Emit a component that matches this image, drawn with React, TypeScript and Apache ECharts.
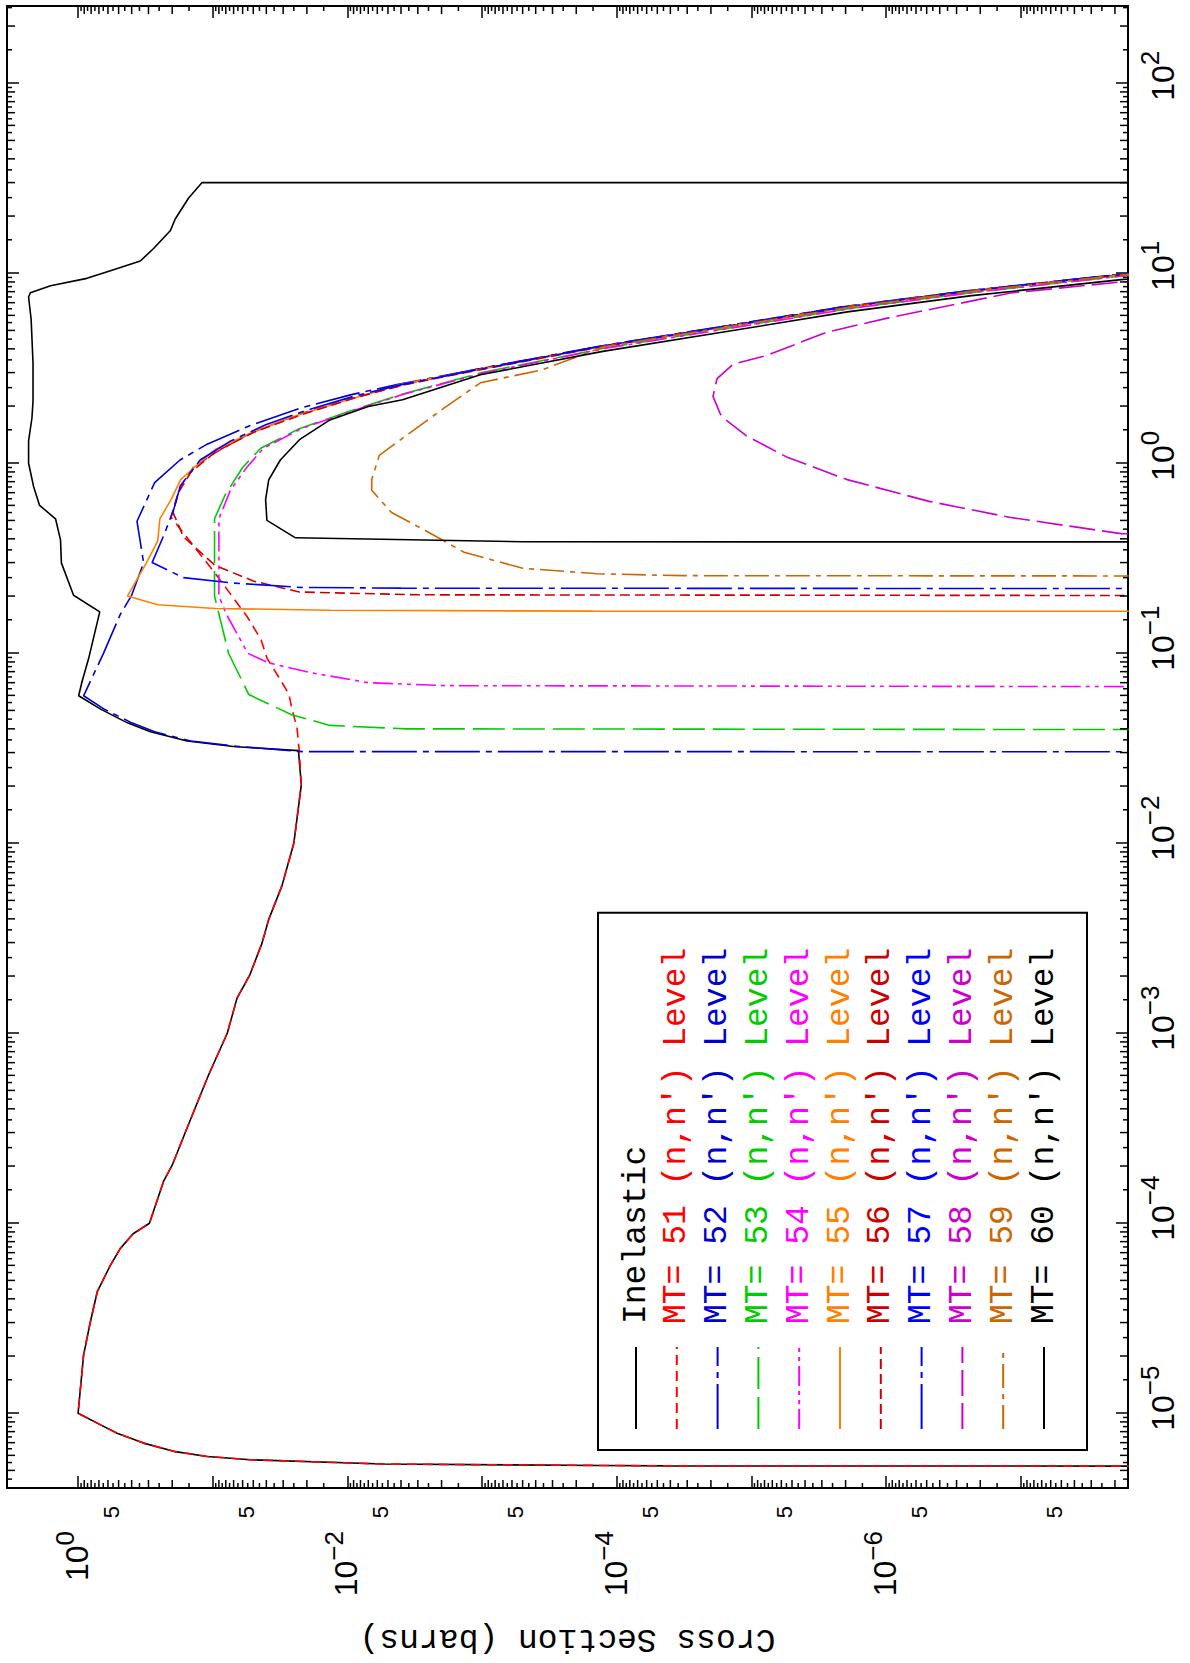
import React, { useEffect, useRef } from "react";
import * as echarts from "echarts";

// ---------- axis ranges ----------
const ENERGY_MIN = 4.04e-6;
const ENERGY_MAX = 255;
const XS_MIN = 1.6e-8;
const XS_MAX = 3.37;

// ---------- legend / styling tables ----------
const LEGEND_NAMES = [
  "Inelastic",
  "MT= 51 (n,n') Level",
  "MT= 52 (n,n') Level",
  "MT= 53 (n,n') Level",
  "MT= 54 (n,n') Level",
  "MT= 55 (n,n') Level",
  "MT= 56 (n,n') Level",
  "MT= 57 (n,n') Level",
  "MT= 58 (n,n') Level",
  "MT= 59 (n,n') Level",
  "MT= 60 (n,n') Level",
];
const LINE_COLORS = [
  "#000000", "#ff0000", "#0000d0", "#00cc00", "#ff00ff", "#ff8000",
  "#cc0000", "#0000ff", "#cc00cc", "#cc6600", "#000000",
];
const LINE_DASHES: any[] = [
  "solid", [10, 6], [45, 6, 6, 6], [32, 8], [20, 5, 4, 5, 4, 5], "solid",
  [10, 5], [45, 6, 6, 6], [26, 7], [24, 6, 5, 6], "solid",
];

// ---------- data: [energy (MeV), cross section (barns)] ----------
const SHARED_LOW = [
  [5.26e-6, 1e-10], [5.28e-6, 3.9e-5], [5.31e-6, 1.3e-4], [5.4e-6, 5.4e-3],
  [5.69e-6, 0.0526], [5.92e-6, 0.11], [6.3e-6, 0.195], [6.96e-6, 0.326],
  [7.85e-6, 0.513], [8.68e-6, 0.68], [1.0e-5, 1.0], [1.35e-5, 0.96],
  [2.02e-5, 0.91], [3.03e-5, 0.81], [4.36e-5, 0.72], [6.0e-5, 0.576],
  [7.37e-5, 0.485], [8.8e-5, 0.39], [1.0e-4, 0.295], [1.66e-4, 0.232],
  [2.02e-4, 0.2], [3.0e-4, 0.16], [5.97e-4, 0.108], [1.0e-3, 0.078],
  [1.53e-3, 0.066], [2.03e-3, 0.053], [2.99e-3, 0.043], [3.95e-3, 0.0385],
  [5.98e-3, 0.0306], [1.0e-2, 0.025], [1.34e-2, 0.0237], [2.03e-2, 0.022],
];

const INELASTIC_HIGH = [
  [3.07e-2, 0.0231], [3.23e-2, 0.0703], [3.45e-2, 0.155], [3.86e-2, 0.29],
  [4.3e-2, 0.43], [5.08e-2, 0.68], [5.97e-2, 0.99], [7.1e-2, 0.934],
  [9.4e-2, 0.834], [0.165, 0.69], [0.2018, 1.08], [0.299, 1.33],
  [0.395, 1.35], [0.51, 1.47], [0.6, 1.93], [0.755, 2.14], [1.0, 2.33],
  [1.31, 2.33], [1.73, 2.2], [2.12, 2.16], [3.37, 2.16], [5.7, 2.23],
  [7.5, 2.33], [7.9, 2.26], [8.6, 1.6], [9.4, 0.86], [10.3, 0.575],
  [11.6, 0.345], [13.5, 0.275], [16.8, 0.206], [19.3, 0.19], [24.9, 0.151],
  [30.0, 0.12], [30.0, 1e-10],
];

const MT51_HIGH = [
  [3.06e-2, 0.0228], [4.07e-2, 0.0237], [5.08e-2, 0.0258], [6.1e-2, 0.0272],
  [7.5e-2, 0.0324], [9.4e-2, 0.0395], [0.118, 0.0438], [0.156, 0.0556],
  [0.192, 0.069], [0.266, 0.097], [0.394, 0.15], [0.52, 0.204], [0.62, 0.19],
  [0.755, 0.174], [0.953, 0.139], [1.15, 0.093], [1.44, 0.0526],
  [1.82, 0.0224], [2.19, 0.0095], [2.57, 0.004], [3.15, 1.03e-3],
  [4.15, 1.27e-4], [5.25, 1.6e-5], [6.7, 2.0e-6], [8.1, 2.4e-7],
  [9.85, 1.8e-8], [10.4, 7e-9],
];

const MT52 = [
  [0.0303, 1e-10], [0.03035, 0.0215], [0.0323, 0.064], [0.0345, 0.145],
  [0.0386, 0.27], [0.043, 0.4], [0.0508, 0.64], [0.0597, 0.91],
  [0.0993, 0.65], [0.16, 0.486], [0.2018, 0.4], [0.299, 0.326],
  [0.495, 0.365], [0.79, 0.27], [1.04, 0.175], [1.26, 0.11], [1.58, 0.0526],
  [1.95, 0.0224], [2.29, 0.0095], [2.6, 0.0042], [3.12, 1.1e-3],
  [4.13, 1.35e-4], [5.23, 1.7e-5], [6.65, 2.1e-6], [8.05, 2.6e-7],
  [9.85, 1.9e-8], [10.4, 7e-9],
];

const MT53 = [
  [0.0395, 1e-10], [0.04, 0.0036], [0.0417, 0.0135], [0.0475, 0.026],
  [0.0606, 0.054], [0.1, 0.0763], [0.2, 0.097], [0.51, 0.097], [0.68, 0.081],
  [0.95, 0.06], [1.2, 0.044], [1.52, 0.0228], [1.87, 0.0098], [2.3, 0.004],
  [3.0, 1.0e-3], [4.05, 1.2e-4], [5.15, 1.45e-5], [6.55, 1.8e-6],
  [7.95, 2.2e-7], [9.7, 1.7e-8], [10.3, 6e-9],
];

const MT54 = [
  [0.0664, 1e-10], [0.0675, 0.0019], [0.07, 0.007], [0.079, 0.0188],
  [0.089, 0.0385], [0.1, 0.055], [0.16, 0.079], [0.2, 0.09], [0.51, 0.09],
  [0.72, 0.074], [0.95, 0.056], [1.2, 0.042], [1.52, 0.022], [1.87, 0.0095],
  [2.3, 0.0039], [3.0, 9.5e-4], [4.05, 1.15e-4], [5.15, 1.4e-5],
  [6.55, 1.75e-6], [7.95, 2.15e-7], [9.7, 1.7e-8], [10.3, 6e-9],
];

const MT55 = [
  [0.166, 1e-10], [0.1665, 1.5e-4], [0.1685, 0.0135], [0.172, 0.096],
  [0.18, 0.256], [0.2, 0.43], [0.3, 0.31], [0.39, 0.256], [0.51, 0.247],
  [0.643, 0.204], [0.82, 0.173], [0.93, 0.142], [1.18, 0.096], [1.46, 0.05],
  [1.75, 0.026], [2.16, 0.0098], [2.6, 0.004], [3.13, 1.0e-3],
  [4.13, 1.25e-4], [5.22, 1.57e-5], [6.65, 1.95e-6], [8.05, 2.4e-7],
  [9.8, 1.8e-8], [10.4, 7e-9],
];

const MT56 = [
  [0.2005, 1e-10], [0.203, 0.003], [0.21, 0.0228], [0.24, 0.05],
  [0.29, 0.096], [0.41, 0.165], [0.55, 0.197], [0.7, 0.18], [0.9, 0.145],
  [1.15, 0.095], [1.45, 0.05], [1.8, 0.022], [2.2, 0.009], [2.6, 0.0037],
  [3.12, 1.0e-3], [4.12, 1.25e-4], [5.22, 1.55e-5], [6.64, 1.9e-6],
  [8.05, 2.35e-7], [9.8, 1.75e-8], [10.4, 7e-9],
];

const MT57 = [
  [0.2185, 1e-10], [0.22, 0.004], [0.222, 0.0224], [0.234, 0.07],
  [0.25, 0.165], [0.3, 0.282], [0.42, 0.23], [0.57, 0.195], [0.76, 0.174],
  [1.04, 0.124], [1.3, 0.075], [1.6, 0.04], [1.9, 0.02], [2.25, 0.009],
  [2.6, 0.0039], [3.12, 1.05e-3], [4.13, 1.3e-4], [5.23, 1.62e-5],
  [6.65, 2.0e-6], [8.05, 2.5e-7], [9.85, 1.85e-8], [10.4, 7e-9],
];

const MT58 = [
  [0.41, 1e-10], [0.426, 1.8e-8], [0.465, 4.2e-8], [0.518, 1.19e-7],
  [0.63, 4.8e-7], [0.82, 1.95e-6], [1.08, 5.5e-6], [1.4, 1.1e-5],
  [1.66, 1.5e-5], [1.81, 1.7e-5], [2.25, 1.93e-5], [2.79, 1.8e-5],
  [3.33, 1.36e-5], [3.68, 7.8e-6], [4.9, 2.75e-6], [5.82, 9.6e-7],
  [7.87, 1.19e-7], [9.0, 1.8e-8], [9.6, 3e-9],
];

const MT59 = [
  [0.2545, 1e-10], [0.256, 3.2e-5], [0.262, 1.4e-4], [0.28, 5e-4],
  [0.34, 1.36e-3], [0.44, 2.6e-3], [0.55, 4.7e-3], [0.72, 6.6e-3],
  [0.82, 6.6e-3], [1.1, 5.8e-3], [1.41, 3.6e-3], [1.96, 1.9e-3],
  [2.65, 1.03e-3], [3.1, 3.6e-4], [4.1, 1.25e-4], [5.2, 1.55e-5],
  [6.62, 1.9e-6], [8.03, 2.35e-7], [9.8, 1.75e-8], [10.4, 7e-9],
];

const MT60 = [
  [0.385, 1e-10], [0.386, 5e-4], [0.405, 0.0243], [0.5, 0.0396],
  [0.643, 0.0405], [0.818, 0.0384], [1.04, 0.0315], [1.33, 0.0227],
  [1.69, 0.0135], [1.99, 0.007], [2.16, 0.0039], [2.92, 1.03e-3],
  [3.88, 1.27e-4], [4.92, 1.57e-5], [6.26, 1.94e-6], [7.6, 2.4e-7],
  [9.25, 1.8e-8], [9.8, 7e-9],
];

const INELASTIC = [...SHARED_LOW, ...INELASTIC_HIGH];
const MT51 = [...SHARED_LOW, ...MT51_HIGH];
const SERIES_DATA = [INELASTIC, MT51, MT52, MT53, MT54, MT55, MT56, MT57, MT58, MT59, MT60];

// ---------- tick furniture ----------
const MINOR_STEPS = [1.5, 2, 2.5, 3, 3.5, 4, 4.5, 5, 5.5, 6, 6.5, 7, 7.5, 8, 8.5, 9, 9.5];
const ENERGY_DECADES = [-6, -5, -4, -3, -2, -1, 0, 1, 2];
const XS_DECADES = [-8, -7, -6, -5, -4, -3, -2, -1, 0];

const SANS = "'Liberation Sans', Arial, Helvetica, sans-serif";
const MONO = "'Liberation Mono', 'Courier New', monospace";

function supText(n: number) {
  return n < 0 ? "\u2212" + Math.abs(n) : String(n);
}

export default function App() {
  const ref = useRef<HTMLDivElement>(null);

  useEffect(() => {
    if (!ref.current) return;
    const chart = echarts.init(ref.current, undefined, { renderer: "svg" });

    const energyTicks: number[][] = [];
    ENERGY_DECADES.forEach((d) =>
      MINOR_STEPS.forEach((k) => {
        const v = k * Math.pow(10, d);
        if (v > ENERGY_MIN && v < ENERGY_MAX) energyTicks.push([v, 1, k]);
      })
    );
    const xsTicks: number[][] = [];
    XS_DECADES.forEach((d) =>
      MINOR_STEPS.forEach((k) => {
        const v = k * Math.pow(10, d - 1);
        if (v > XS_MIN && v < XS_MAX) xsTicks.push([1e-2, v, k]);
      })
    );

    const tickStyle = { stroke: "#000", lineWidth: 1.5 };

    const axisLineCommon = {
      show: true,
      onZero: false,
      lineStyle: { color: "#000", width: 2 },
    };
    const axisTickCommon = {
      show: true,
      inside: true,
      length: 12,
      lineStyle: { color: "#000", width: 1.5 },
    };

    const lineSeries = SERIES_DATA.map((data, i) => ({
      name: LEGEND_NAMES[i],
      type: "line",
      data,
      symbol: "none",
      showSymbol: false,
      color: LINE_COLORS[i],
      itemStyle: { color: LINE_COLORS[i] },
      lineStyle: { color: LINE_COLORS[i], width: 1.6, type: LINE_DASHES[i] },
      clip: true,
      silent: true,
      z: 2,
    }));

    const option: any = {
      animation: false,
      backgroundColor: "#ffffff",
      grid: { left: 173, right: 6, top: 7, bottom: 62 },
      xAxis: [
        {
          type: "log",
          logBase: 10,
          min: ENERGY_MIN,
          max: ENERGY_MAX,
          position: "bottom",
          axisLine: axisLineCommon,
          axisTick: axisTickCommon,
          splitLine: { show: false },
          minorTick: { show: false },
          axisLabel: {
            show: true,
            margin: 9,
            color: "#000",
            fontFamily: SANS,
            formatter: (v: number) => {
              const l = Math.log10(v);
              const n = Math.round(l);
              if (Math.abs(l - n) > 1e-6) return "";
              const s = supText(n);
              return `{${s.length > 1 ? "b2" : "b1"}|10}{s|${s}}`;
            },
            rich: {
              b1: { fontSize: 32, lineHeight: 32, fontFamily: SANS, color: "#000", padding: [20, 0, 0, 15] },
              b2: { fontSize: 32, lineHeight: 32, fontFamily: SANS, color: "#000", padding: [20, 0, 0, 30] },
              s: { fontSize: 26, lineHeight: 26, fontFamily: SANS, color: "#000", verticalAlign: "top" },
            },
          },
        },
        {
          type: "log",
          logBase: 10,
          min: ENERGY_MIN,
          max: ENERGY_MAX,
          position: "top",
          axisLine: axisLineCommon,
          axisTick: axisTickCommon,
          axisLabel: { show: false },
          splitLine: { show: false },
        },
      ],
      yAxis: [
        {
          type: "log",
          logBase: 10,
          min: XS_MIN,
          max: XS_MAX,
          position: "left",
          name: "Cross Section (barns)",
          nameLocation: "middle",
          nameRotate: 90,
          nameGap: 134,
          nameTextStyle: { fontFamily: MONO, fontSize: 33, color: "#000" },
          axisLine: axisLineCommon,
          axisTick: axisTickCommon,
          splitLine: { show: false },
          minorTick: { show: false },
          axisLabel: {
            show: true,
            margin: 43,
            align: "right",
            verticalAlign: "bottom",
            color: "#000",
            fontFamily: SANS,
            formatter: (v: number) => {
              const l = Math.log10(v);
              const n = Math.round(l);
              if (Math.abs(l - n) > 1e-6) return "";
              if (n % 2 !== 0) return "";
              return `{b|10}{s|${supText(n)}}`;
            },
            rich: {
              b: { fontSize: 32, lineHeight: 20, fontFamily: SANS, color: "#000", padding: [24, 0, 0, 0] },
              s: { fontSize: 26, lineHeight: 26, fontFamily: SANS, color: "#000", verticalAlign: "top" },
            },
          },
        },
        {
          type: "log",
          logBase: 10,
          min: XS_MIN,
          max: XS_MAX,
          position: "right",
          axisLine: axisLineCommon,
          axisTick: axisTickCommon,
          axisLabel: { show: false },
          splitLine: { show: false },
        },
      ],
      legend: {
        orient: "vertical",
        left: 213,
        top: 598,
        padding: [20, 35, 25, 20],
        itemWidth: 82,
        itemHeight: 14,
        itemGap: 4.8,
        borderColor: "#000",
        borderWidth: 2,
        backgroundColor: "#ffffff",
        selectedMode: false,
        itemStyle: { opacity: 0 },
        textStyle: { fontFamily: MONO, fontSize: 33, lineHeight: 36, padding: [0, 0, 0, 18] },
        data: LEGEND_NAMES.map((n, i) => ({ name: n, textStyle: { color: LINE_COLORS[i] } })),
      },
      series: [
        ...lineSeries,
        {
          type: "custom",
          name: "energyMinorTicks",
          coordinateSystem: "cartesian2d",
          xAxisIndex: 0,
          yAxisIndex: 0,
          silent: true,
          z: 5,
          encode: { x: 0, y: 1 },
          data: energyTicks,
          renderItem: (params: any, api: any) => {
            const cs = params.coordSys;
            const x = api.coord([api.value(0), 1])[0];
            if (x <= cs.x + 1 || x >= cs.x + cs.width - 1) return null;
            const k = api.value(2);
            const len = Number.isInteger(k) ? 8 : 5;
            const yb = cs.y + cs.height;
            const yt = cs.y;
            return {
              type: "group",
              children: [
                { type: "line", shape: { x1: x, y1: yb, x2: x, y2: yb - len }, style: tickStyle },
                { type: "line", shape: { x1: x, y1: yt, x2: x, y2: yt + len }, style: tickStyle },
              ],
            };
          },
        },
        {
          type: "custom",
          name: "xsMinorTicks",
          coordinateSystem: "cartesian2d",
          xAxisIndex: 0,
          yAxisIndex: 0,
          silent: true,
          z: 5,
          encode: { x: 0, y: 1 },
          data: xsTicks,
          renderItem: (params: any, api: any) => {
            const cs = params.coordSys;
            const y = api.coord([1e-2, api.value(1)])[1];
            if (y <= cs.y + 1 || y >= cs.y + cs.height - 1) return null;
            const k = api.value(2);
            const len = Number.isInteger(k) ? 8 : 5;
            const xl = cs.x;
            const xr = cs.x + cs.width;
            const children: any[] = [
              { type: "line", shape: { x1: xl, y1: y, x2: xl + len, y2: y }, style: tickStyle },
              { type: "line", shape: { x1: xr, y1: y, x2: xr - len, y2: y }, style: tickStyle },
            ];
            if (k === 5) {
              children.push({
                type: "text",
                x: xl - 18,
                y: y + 4,
                style: {
                  text: "5",
                  fill: "#000",
                  font: `22px ${SANS}`,
                  textAlign: "right",
                  textVerticalAlign: "bottom",
                },
              });
            }
            return { type: "group", children };
          },
        },
      ],
    };

    chart.setOption(option);
    return () => {
      chart.dispose();
    };
  }, []);

  return (
    <div
      style={{
        position: "absolute",
        left: 0,
        top: 0,
        width: 1190,
        height: 1663,
        overflow: "hidden",
        background: "#fff",
      }}
    >
      <div
        style={{
          position: "absolute",
          left: 0,
          top: 0,
          width: 1663,
          height: 1190,
          transformOrigin: "0 0",
          transform: "translateY(1663px) rotate(-90deg)",
        }}
      >
        <div ref={ref} style={{ width: 1663, height: 1190 }} />
      </div>
    </div>
  );
}
